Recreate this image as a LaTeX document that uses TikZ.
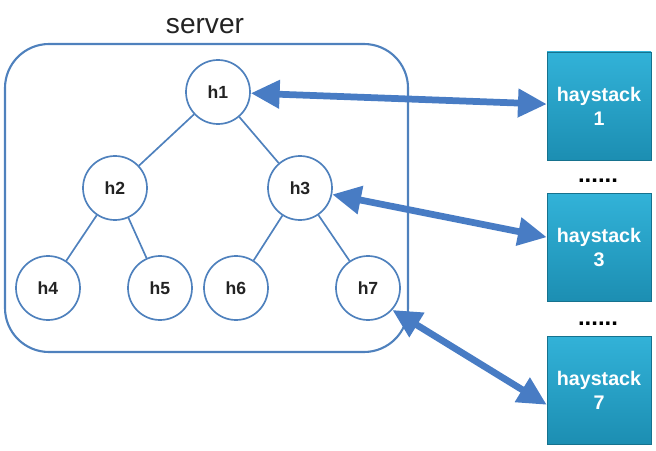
\documentclass[tikz,border=0pt]{standalone}
\usepackage{fontspec}
\setmainfont{Liberation Sans}
\usetikzlibrary{arrows.meta}
\definecolor{lineblue}{RGB}{79,129,189}
\definecolor{arrowblue}{RGB}{72,124,196}
\definecolor{hstop}{RGB}{50,178,216}
\definecolor{hsbottom}{RGB}{28,142,178}
\definecolor{labelgray}{RGB}{35,35,35}

\begin{document}
\begin{tikzpicture}[
  hnode/.style={circle, draw=lineblue, line width=1.2pt, fill=white,
    minimum size=1.6cm, inner sep=0pt, text=labelgray,
    font=\fontsize{12.5}{15}\selectfont\bfseries},
  hsbox/.style={rectangle, minimum width=2.6cm, minimum height=2.7cm,
    top color=hstop, bottom color=hsbottom, draw=hsbottom!80!black, line width=0.3pt,
    text=white, align=center, font=\fontsize{14}{17}\selectfont\bfseries},
  dotrow/.style={anchor=base, font=\fontsize{17}{20}\selectfont\bfseries},
  link/.style={<->, arrowblue, line width=4.8pt,
    >={Triangle[length=0.72cm, width=0.68cm]}},
  tree/.style={lineblue, line width=1.2pt}
]
  \useasboundingbox (0,0) rectangle (16.4,11.25);
  \draw[lineblue, line width=1.5pt, rounded corners=1.1cm] (0.125,2.45) rectangle (10.2,10.15);
  \node[anchor=base, text=labelgray, font=\fontsize{20}{24}\selectfont] (srv) at (5.125,10.42) {server};

  \node[hnode] (h1) at (5.45,8.95) {h1};
  \node[hnode] (h2) at (2.875,6.55) {h2};
  \node[hnode] (h3) at (7.5,6.55) {h3};
  \node[hnode] (h4) at (1.2,4.05) {h4};
  \node[hnode] (h5) at (4.0,4.05) {h5};
  \node[hnode] (h6) at (5.9,4.05) {h6};
  \node[hnode] (h7) at (9.2,4.05) {h7};
  \draw[tree] (h1) -- (h2);
  \draw[tree] (h1) -- (h3);
  \draw[tree] (h2) -- (h4);
  \draw[tree] (h2) -- (h5);
  \draw[tree] (h3) -- (h6);
  \draw[tree] (h3) -- (h7);

  \node[hsbox] (hs1) at (14.975,8.6) {haystack\\1};
  \node[hsbox] (hs3) at (14.975,5.06) {haystack\\3};
  \node[hsbox] (hs7) at (14.975,1.49) {haystack\\7};
  \node[dotrow] (dots1) at (14.95,6.68) {......};
  \node[dotrow] (dots2) at (14.95,3.12) {......};

  \draw[link] (h1) -- (hs1);
  \draw[link] (h3) -- (hs3);
  \draw[link] (h7.-42) -- ([yshift=-0.36cm]hs7.west);
\end{tikzpicture}
\end{document}
